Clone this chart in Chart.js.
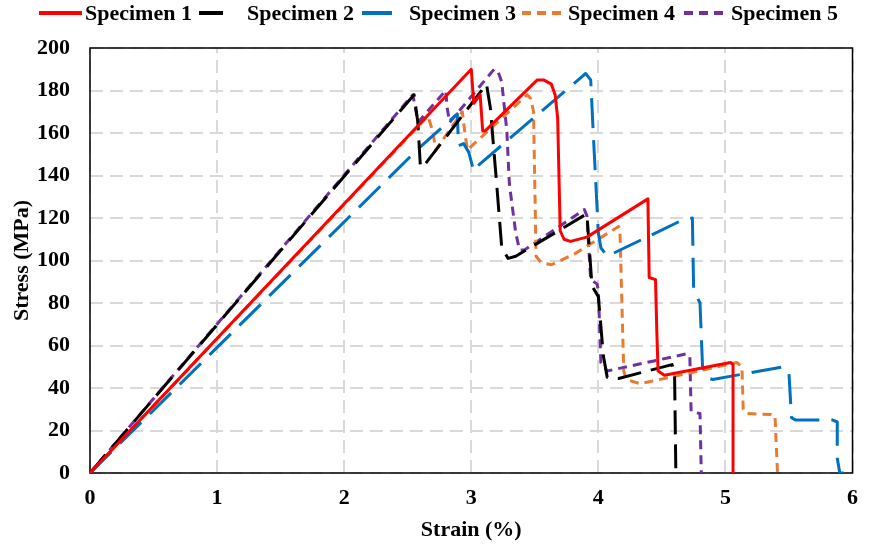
<!DOCTYPE html>
<html>
<head>
<meta charset="utf-8">
<script src="https://cdn.jsdelivr.net/npm/chart.js@4.4.0/dist/chart.umd.min.js"></script>
<style>
  html, body { margin: 0; padding: 0; background: #fff; }
  #wrap { width: 870px; height: 548px; }
</style>
</head>
<body>
<div id="wrap"><canvas id="stressChart" width="870" height="548"></canvas></div>
<script>
// Datos: deformacion (%) y esfuerzo (MPa)
const seriesNames = ['Specimen 1', 'Specimen 2', 'Specimen 3', 'Specimen 4', 'Specimen 5'];

const strain1 = [0, 3.0, 3.02, 3.07, 3.09, 3.11, 3.52, 3.57, 3.63, 3.66, 3.68, 3.70, 3.73, 3.78, 3.91, 4.39, 4.40, 4.45, 4.46, 4.47, 4.52, 5.04, 5.06, 5.06];
const stress1 = [0, 190, 174, 178, 161, 161, 185, 185, 183, 178, 167, 114, 110, 109, 111, 129, 92, 91, 67, 48, 46, 52, 51, 0];

const strain2 = [0, 2.55, 2.58, 2.60, 2.62, 3.12, 3.15, 3.20, 3.24, 3.29, 3.35, 3.91, 3.95, 4.00, 4.04, 4.07, 4.16, 4.58, 4.60, 4.61, 4.65];
const stress2 = [0, 178, 165, 144, 144, 183, 172, 136, 106, 101, 102, 122, 88, 83, 55, 45, 44.5, 51, 46, 0, 0];

const strain3 = [0, 2.59, 2.89, 2.90, 2.94, 2.98, 3.02, 3.06, 3.90, 3.94, 3.96, 4.00, 4.02, 4.07, 4.66, 4.74, 4.75, 4.80, 4.82, 4.85, 4.90, 5.46, 5.50, 5.52, 5.55, 5.84, 5.88, 5.88, 5.90, 5.93];
const stress3 = [0, 153, 169, 154, 155, 151, 142, 145, 188, 185, 160, 113, 106, 102, 119, 120, 86, 80, 50, 45, 44, 50, 47, 26, 25, 25, 24, 7, 0, 0];

const strain4 = [0, 2.66, 2.70, 2.72, 2.93, 2.95, 2.97, 3.44, 3.47, 3.49, 3.51, 3.55, 3.63, 3.81, 4.16, 4.17, 4.20, 4.22, 4.33, 5.09, 5.13, 5.14, 5.17, 5.36, 5.39, 5.41, 5.45];
const stress4 = [0, 168, 160, 152, 170, 160, 152, 178, 176, 170, 102, 99, 98, 103, 116, 114, 48, 44, 42, 52, 50, 30, 28, 27.5, 27, 0, 0];

const strain5 = [0, 2.54, 2.56, 2.58, 2.80, 2.81, 2.83, 3.18, 3.21, 3.24, 3.28, 3.30, 3.35, 3.38, 3.42, 3.89, 3.91, 3.94, 3.99, 4.00, 4.02, 4.07, 4.69, 4.72, 4.73, 4.76, 4.80, 4.81];
const stress5 = [0, 178, 172, 165, 180, 172, 165, 190, 189, 184, 161, 136, 113, 105, 105, 124, 121, 91, 89, 86, 52, 48, 56, 55, 29, 28.5, 28, 0];

const xTicks = [0, 1, 2, 3, 4, 5, 6];
const yTicks = [0, 20, 40, 60, 80, 100, 120, 140, 160, 180, 200];

const lineColors = ['#FF0000', '#000000', '#0070C0', '#E97A30', '#7030A0'];
const lineDashes = [[], [24, 10], [30, 12], [9, 6], [9, 6]];

function toPoints(xs, ys) {
    return xs.map((x, i) => ({ x: x, y: ys[i] }));
}

const allStrain = [strain1, strain2, strain3, strain4, strain5];
const allStress = [stress1, stress2, stress3, stress4, stress5];

const fontFamily = "'Liberation Serif', 'Times New Roman', serif";

// Leyenda dibujada a mano (espaciado irregular como en la figura)
const legendSlots = [
    { x0: 39, x1: 82, tx: 85 },
    { x0: 199, x1: 229, tx: 247 },
    { x0: 362, x1: 392, tx: 409 },
    { x0: 522, x1: 566, tx: 568 },
    { x0: 684, x1: 727, tx: 731 }
];

const customLegend = {
    id: 'customLegend',
    afterDraw(chart) {
        const ctx = chart.ctx;
        ctx.save();
        chart.data.datasets.forEach((ds, i) => {
            const s = legendSlots[i];
            ctx.beginPath();
            ctx.setLineDash(ds.borderDash || []);
            ctx.strokeStyle = ds.borderColor;
            ctx.lineWidth = 4;
            ctx.moveTo(s.x0, 13);
            ctx.lineTo(s.x1, 13);
            ctx.stroke();
            ctx.setLineDash([]);
            ctx.fillStyle = '#000';
            ctx.font = 'bold 22px ' + fontFamily;
            ctx.textBaseline = 'middle';
            ctx.textAlign = 'left';
            ctx.fillText(ds.label, s.tx, 14);
        });
        ctx.restore();
    }
};

// Rejilla discontinua y marco negro alrededor del area del grafico
const plotFrame = {
    id: 'plotFrame',
    beforeDatasetsDraw(chart) {
        const a = chart.chartArea;
        const ctx = chart.ctx;
        const xs = chart.scales.x;
        const ys = chart.scales.y;
        ctx.save();
        ctx.strokeStyle = '#D9D9D9';
        ctx.lineWidth = 2;
        ctx.setLineDash([13, 7]);
        xTicks.forEach(v => {
            const px = Math.round(xs.getPixelForValue(v));
            ctx.beginPath();
            ctx.moveTo(px, a.bottom);
            ctx.lineTo(px, a.top);
            ctx.stroke();
        });
        yTicks.forEach(v => {
            const py = Math.round(ys.getPixelForValue(v));
            ctx.beginPath();
            ctx.moveTo(a.left, py);
            ctx.lineTo(a.right, py);
            ctx.stroke();
        });
        ctx.setLineDash([]);
        ctx.strokeStyle = '#000';
        ctx.lineWidth = 1.5;
        ctx.strokeRect(a.left, a.top, a.right - a.left, a.bottom - a.top);
        ctx.restore();
    }
};

const datasets = seriesNames.map((name, i) => ({
    label: name,
    data: toPoints(allStrain[i], allStress[i]),
    borderColor: lineColors[i],
    backgroundColor: lineColors[i],
    borderDash: lineDashes[i],
    segment: { borderDash: () => lineDashes[i] },
    borderWidth: 3,
    pointRadius: 0,
    tension: 0,
    fill: false,
    borderJoinStyle: 'round',
    borderCapStyle: 'butt'
}));

new Chart(document.getElementById('stressChart').getContext('2d'), {
    type: 'scatter',
    data: { datasets: datasets },
    options: {
        responsive: false,
        animation: false,
        showLine: true,
        layout: { padding: { left: 0, right: 8, top: 48, bottom: 0 } },
        plugins: {
            legend: { display: false },
            tooltip: { enabled: false }
        },
        scales: {
            x: {
                type: 'linear',
                min: 0,
                max: 6,
                afterBuildTicks: (scale) => { scale.ticks = xTicks.map(v => ({ value: v })); },
                afterFit: (scale) => { scale.height = 75; },
                grid: { display: false, drawTicks: false },
                border: { display: false },
                ticks: {
                    color: '#000',
                    padding: 12,
                    font: { family: fontFamily, size: 22, weight: 'bold' }
                },
                title: {
                    display: true,
                    text: 'Strain (%)',
                    color: '#000',
                    padding: { top: 0, bottom: 4 },
                    font: { family: fontFamily, size: 22, weight: 'bold' }
                }
            },
            y: {
                type: 'linear',
                min: 0,
                max: 200,
                afterBuildTicks: (scale) => { scale.ticks = yTicks.map(v => ({ value: v })); },
                afterFit: (scale) => { scale.width = 90; },
                grid: { display: false, drawTicks: false },
                border: { display: false },
                ticks: {
                    color: '#000',
                    padding: 20,
                    font: { family: fontFamily, size: 22, weight: 'bold' }
                },
                title: {
                    display: true,
                    text: 'Stress (MPa)',
                    color: '#000',
                    padding: { top: 9, bottom: 0 },
                    font: { family: fontFamily, size: 22, weight: 'bold' }
                }
            }
        }
    },
    plugins: [customLegend, plotFrame]
});
</script>
</body>
</html>
